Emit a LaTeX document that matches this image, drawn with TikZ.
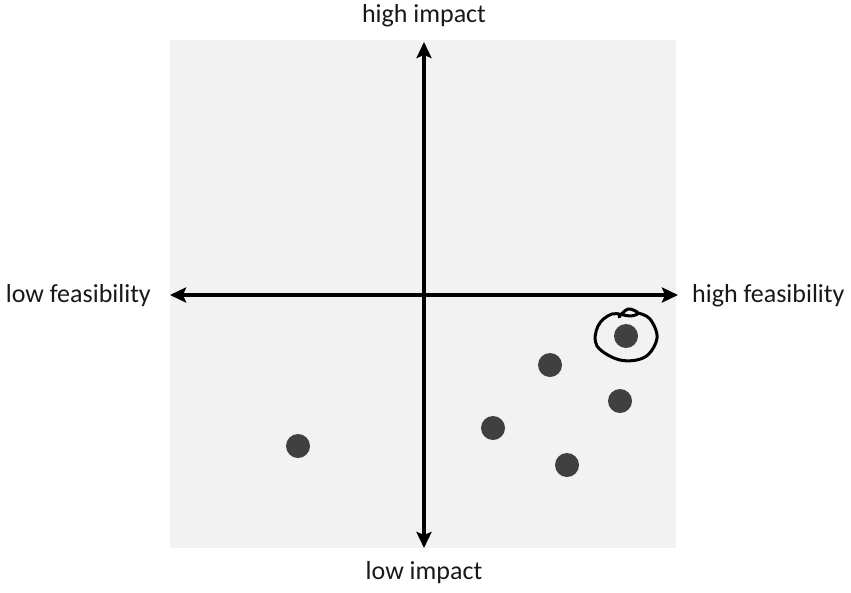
\documentclass[tikz,border=0pt]{standalone}
\usepackage{fontspec}
\setmainfont{Carlito}
\usetikzlibrary{arrows.meta, positioning}
\tikzset{
	axis/.style={line width=3.5pt, {Stealth[length=16pt,width=15pt,inset=3pt]}-{Stealth[length=16pt,width=15pt,inset=3pt]}},
	idea/.style={circle, fill=black!75, minimum size=24pt, inner sep=0pt},
	axistext/.style={font=\fontsize{26}{31}\selectfont, inner sep=0pt, text=black!90},
	handmark/.style={line width=3pt, line cap=round, line join=round},
}

\begin{document}
\begin{tikzpicture}[x=1pt, y=-1pt]

	\useasboundingbox[fill=white] (0,0) rectangle (851,592);
	\fill[black!5] (170,40) rectangle (676,548);

	% axes
	\coordinate (WEST) at (170,295);
	\coordinate (EAST) at (678,295);
	\coordinate (NORTH) at (424,42);
	\coordinate (SOUTH) at (424,548);
	\draw[axis] (WEST) -- (EAST);
	\draw[axis] (SOUTH) -- (NORTH);

	\node[axistext] (HIGHIMP) at (424,16) {high impact};
	\node[axistext] (LOWIMP) at (424,573) {low impact};
	\node[axistext, anchor=east] (LOWFEAS) at (151,296) {low feasibility};
	\node[axistext, anchor=west] (HIGHFEAS) at (692,296) {high feasibility};

	% ideas
	\node[idea] (I1) at (298,446) {};
	\node[idea] (I2) at (493,428) {};
	\node[idea] (I3) at (550,365) {};
	\node[idea] (I4) at (567,465) {};
	\node[idea] (I5) at (620,401) {};
	\node[idea] (I6) at (626,336) {};

	% hand drawn ring
	\draw[handmark] plot[smooth, tension=0.6] coordinates {(619,317) (628,309) (638,313) (630,316) (612,314) (598,326) (597,346) (620,360) (645,357) (657,338) (650,319) (638,313)};

\end{tikzpicture}
\end{document}
